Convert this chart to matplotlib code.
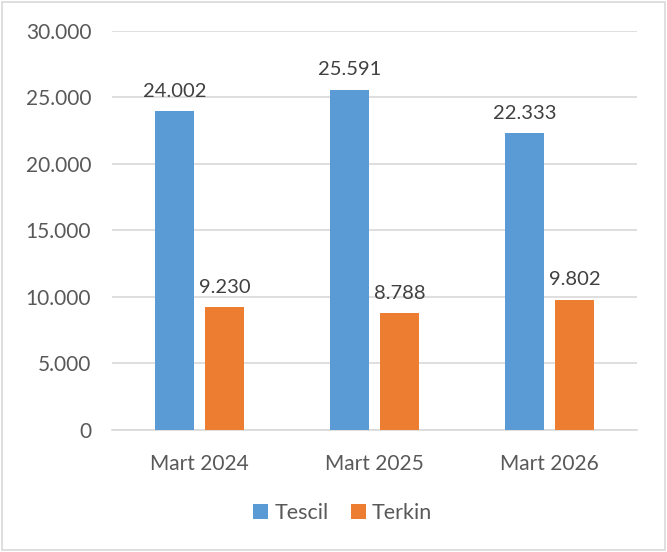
import matplotlib.pyplot as plt
import matplotlib as mpl
import numpy as np
from matplotlib.patches import Rectangle

categories = ['Mart 2024', 'Mart 2025', 'Mart 2026']
tescil = [24002, 25591, 22333]
terkin = [9230, 8788, 9802]
yticks = [0, 5000, 10000, 15000, 20000, 25000, 30000]

mpl.rc('font', family=['Lato', 'DejaVu Sans'], size=15)
txt = '#595959'

fig = plt.figure(figsize=(6.67, 5.52), dpi=100)
ax = fig.add_axes([0.168, 0.221, 0.787, 0.723])

x = np.arange(len(categories))
w = 0.223
off = 0.143
b1 = ax.bar(x - off, tescil, w, color='#5B9BD5', label='Tescil', zorder=3)
b2 = ax.bar(x + off, terkin, w, color='#ED7D31', label='Terkin', zorder=3)

def fmt(v):
    return f'{v:,}'.replace(',', '.')

for bars, vals in [(b1, tescil), (b2, terkin)]:
    for r, v in zip(bars, vals):
        ax.annotate(fmt(v), (r.get_x() + r.get_width() / 2, v), xytext=(0, 8),
                    textcoords='offset points', ha='center', va='bottom',
                    color='#404040', fontsize=14.5)

ax.set_xlim(-0.5, 2.5)
ax.set_ylim(0, 30000)
ax.set_yticks(yticks)
ax.set_yticklabels([fmt(t) for t in yticks])
ax.set_xticks(x)
ax.set_xticklabels(categories)
ax.tick_params(length=0, colors=txt, labelsize=15)
ax.tick_params(axis='y', pad=15)
ax.tick_params(axis='x', pad=17)
ax.grid(axis='y', color='#D9D9D9', linewidth=1.2, zorder=0)
for s in ['top', 'right', 'left']:
    ax.spines[s].set_visible(False)
ax.spines['bottom'].set_color('#D9D9D9')
ax.spines['bottom'].set_linewidth(1.2)

leg = fig.legend(loc='center', bbox_to_anchor=(0.514, 0.071), ncol=2, frameon=False,
                 handlelength=0.7, handleheight=0.7, handletextpad=0.3,
                 columnspacing=1.0, fontsize=15.5)
for t in leg.get_texts():
    t.set_color(txt)

fig.patches.append(Rectangle((0.003, 0.003), 0.994, 0.994, transform=fig.transFigure,
                             fill=False, edgecolor='#D9D9D9', linewidth=1.2))

fig.savefig('out.png', dpi=100)
